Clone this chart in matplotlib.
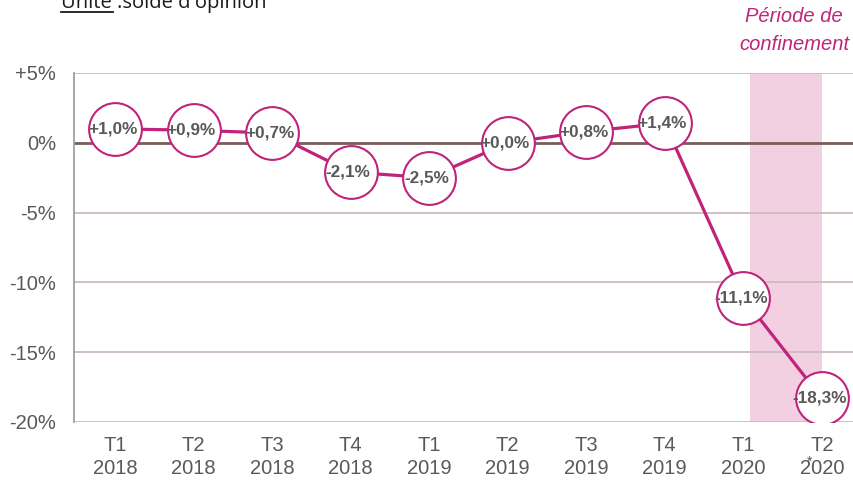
import matplotlib
matplotlib.use("Agg")
import matplotlib.pyplot as plt
from matplotlib.lines import Line2D

plt.rcParams['font.family'] = ['Liberation Sans', 'DejaVu Sans']

categories = ["T1\n2018", "T2\n2018", "T3\n2018", "T4\n2018", "T1\n2019",
              "T2\n2019", "T3\n2019", "T4\n2019", "T1\n2020", "T2\n2020"]
values = [1.0, 0.9, 0.7, -2.1, -2.5, 0.0, 0.8, 1.4, -11.1, -18.3]
labels = ["+1,0%", "+0,9%", "+0,7%", "-2,1%", "-2,5%", "+0,0%", "+0,8%", "+1,4%", "-11,1%", "-18,3%"]
yticks = [5, 0, -5, -10, -15, -20]
yticklabels = ["+5%", "0%", "-5%", "-10%", "-15%", "-20%"]

W, H = 854, 483
fig = plt.figure(figsize=(W/100, H/100), dpi=100)
ax = fig.add_axes([74/W, (H-422)/H, (854-74)/W, (422-73)/H])

mag = "#c0247a"
x = list(range(len(values)))
ax.set_xlim(-0.522, 9.41)
ax.set_ylim(-20, 5)

# shaded lockdown period
ax.axvspan(8.09, 9.0, color="#f2d0e2", zorder=0, lw=0)

for yv in yticks:
    if yv == 0:
        ax.axhline(0, color="#7a5c58", lw=2, zorder=1)
    else:
        ax.axhline(yv, color="#cdbcbc", lw=1.3, zorder=1)

ax.plot(x, values, color=mag, lw=2.3, zorder=2)
ax.plot(x, values, 'o', ms=38, mfc="white", mec=mag, mew=1.5, zorder=3, ls='none')
for xi, v, lab in zip(x, values, labels):
    ax.text(xi - 0.03, v, lab, ha="center", va="center", fontsize=12.3,
            fontweight="bold", color="#595959", zorder=4)

for s in ["top", "right", "bottom"]:
    ax.spines[s].set_visible(False)
ax.spines["left"].set_color("#a0a0a0")
ax.spines["left"].set_linewidth(1.3)

ax.set_xticks(x)
ax.set_xticklabels(categories, fontsize=14.5, color="#595959", linespacing=1.3)
ax.set_yticks(yticks)
ax.set_yticklabels(yticklabels, fontsize=14.5, color="#595959")
ax.tick_params(axis="both", length=0)
ax.tick_params(axis="x", pad=10)
ax.tick_params(axis="y", pad=13)

# title (cut off at top, as in the reference)
fig.text(61/W, 1 - 8/H, "Unité :solde d'opinion", fontsize=14.5, color="#1a1a1a",
         ha="left", va="baseline", family=["Open Sans", "DejaVu Sans"])
fig.add_artist(Line2D([61/W, 113/W], [1 - 12/H, 1 - 12/H], color="#1a1a1a", lw=1.3))

fig.text(794/W, 1 - 17/H, "Période de", fontsize=14.5, color=mag, style="italic",
         ha="center", va="center")
fig.text(794/W, 1 - 44/H, "confinement", fontsize=14.5, color=mag, style="italic",
         ha="center", va="center")
fig.text(810/W, 1 - 462/H, "*", fontsize=10, color="#44546a", ha="center", va="center")

fig.savefig("out.png", dpi=100)
